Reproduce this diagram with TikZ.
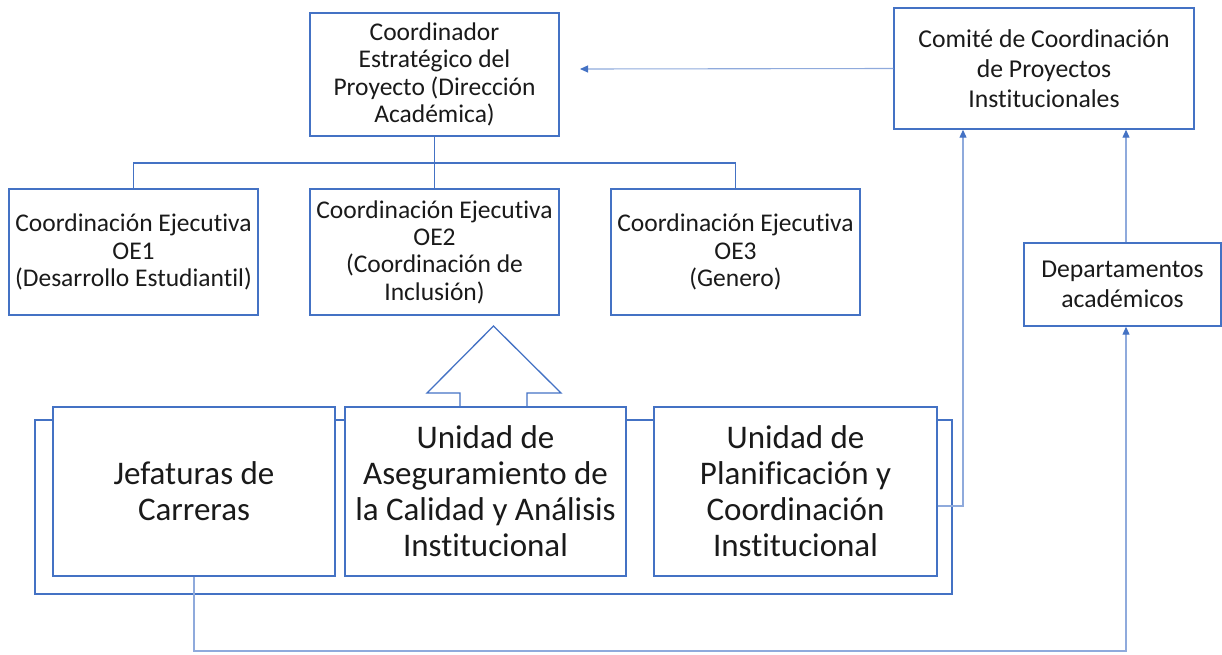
\documentclass[tikz,border=0pt]{standalone}
\usepackage{fontspec}
\setmainfont{Carlito}[RawFeature={-liga;-clig;-dlig;-calt}]
\usetikzlibrary{arrows.meta}
\definecolor{bord}{HTML}{4472C4}
\definecolor{lite}{HTML}{8FAADC}
\definecolor{txt}{HTML}{1A1A1A}
\begin{document}
\begin{tikzpicture}[x=1pt,y=-1pt,
  box/.style={draw=bord,line width=1.4pt,fill=white,align=center,text=txt,inner sep=1pt},
  small/.style={box,font=\fontsize{25.5}{27.3}\selectfont},
  mid/.style={box,font=\fontsize{25.7}{30}\selectfont},
  big/.style={box,font=\fontsize{33}{36}\selectfont},
  tree/.style={draw=bord,line width=1.1pt},
  conn/.style={draw=lite,line width=1.1pt},
  arr/.style={conn,-{Triangle[length=8pt,width=7pt,fill=bord,color=bord]}}]
\useasboundingbox (0,0) rectangle (1222,654);
% enclosing frame behind lower boxes
\draw[draw=bord,line width=1.3pt] (35,420) rectangle (952,594);
\node[small,minimum width=249pt,minimum height=123pt] (coord) at (434.5,74.5) {Coordinador\\Estratégico del\\Proyecto (Dirección\\Académica)};
\node[mid,minimum width=300pt,minimum height=121pt] (com) at (1044,68.5) {Comité de Coordinación\\de Proyectos\\Institucionales};
\node[mid,minimum width=197pt,minimum height=83pt] (dep) at (1122.5,284.5) {Departamentos\\académicos};
\node[small,minimum width=249pt,minimum height=126pt] (oe1) at (133.5,252) {Coordinación Ejecutiva\\OE1\\(Desarrollo Estudiantil)};
\node[small,minimum width=249pt,minimum height=126pt] (oe2) at (434.5,252) {Coordinación Ejecutiva\\OE2\\(Coordinación de\\Inclusión)};
\node[small,minimum width=249pt,minimum height=126pt] (oe3) at (735.5,252) {Coordinación Ejecutiva\\OE3\\(Genero)};
\node[big,minimum width=282pt,minimum height=169pt] (jef) at (194,491.5) {Jefaturas de\\Carreras};
\node[big,minimum width=281pt,minimum height=169pt] (ase) at (485.5,491.5) {Unidad de\\Aseguramiento de\\la Calidad y Análisis\\Institucional};
\node[big,minimum width=283pt,minimum height=169pt] (plan) at (795.5,491.5) {Unidad de\\Planificación y\\Coordinación\\Institucional};
% tree
\draw[tree] (coord.south) -- (oe2.north);
\draw[tree] (oe1.north) |- (434.5,163) -| (oe3.north);
% block arrow
\draw[draw=bord,line width=1.3pt,line join=miter] (460,406.5) -- (460,393) -- (427,393) -- (493.5,326) -- (561,393) -- (527,393) -- (527,406.5);
% connectors
\coordinate (ctip) at (580,69);
\draw[arr] (com.west) -- (ctip);
\draw[arr] (plan.east |- 0,506) -- (963,506) -- (com.south -| 963,0);
\draw[arr] (dep.north -| 1126,0) -- (com.south -| 1126,0);
\draw[arr] (jef.south) |- (1126,651) -- (dep.south -| 1126,0);
\end{tikzpicture}
\end{document}
